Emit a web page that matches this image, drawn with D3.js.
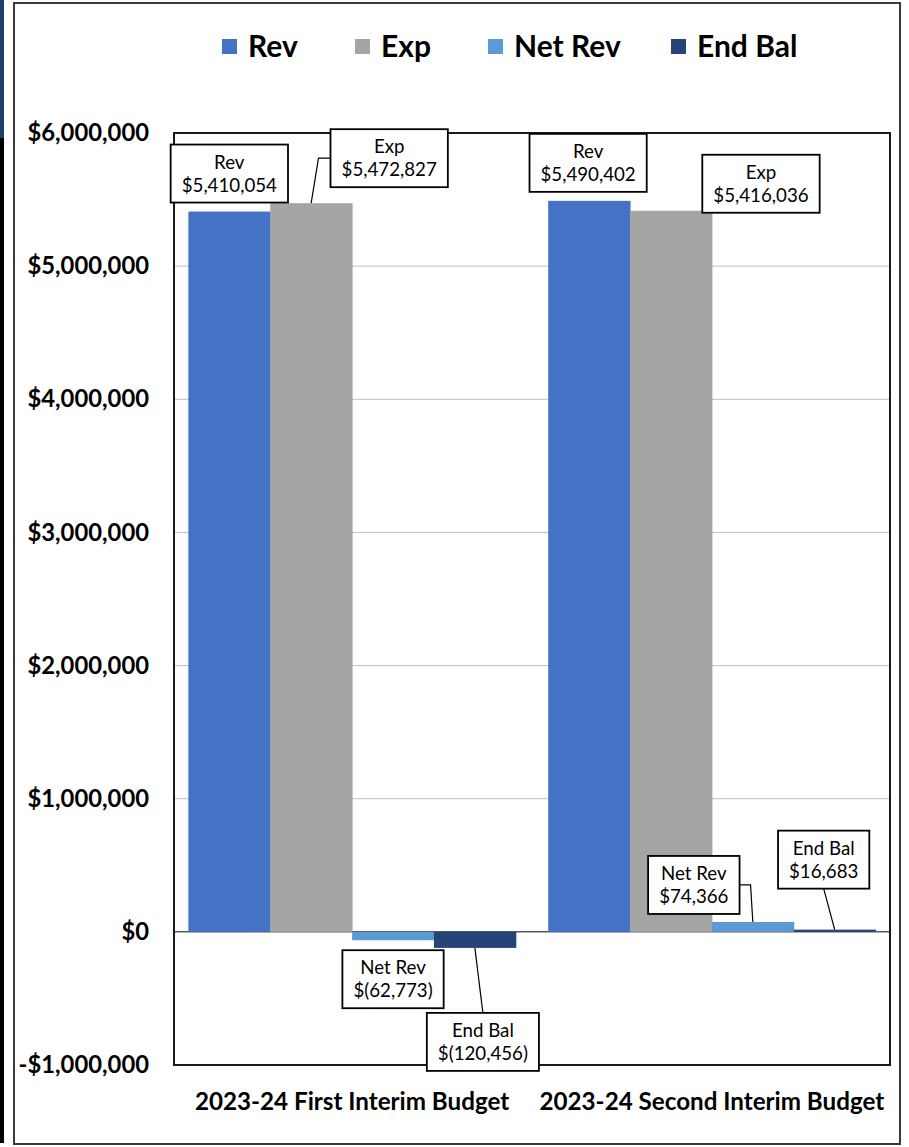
<!DOCTYPE html>
<html><head><meta charset="utf-8">
<script src="https://cdn.jsdelivr.net/npm/d3@7"></script>
<style>html,body{margin:0;padding:0;background:#fff;}svg{display:block;}</style>
</head><body>
<svg id="c" width="909" height="1147"></svg>
<script>
// ---- data ----
const categories = ["2023-24 First Interim Budget", "2023-24 Second Interim Budget"];
const seriesNames = ["Rev", "Exp", "Net Rev", "End Bal"];
const revValues = [5410054, 5490402];
const expValues = [5472827, 5416036];
const netRevValues = [-62773, 74366];
const endBalValues = [-120456, 16683];
const yTicks = [-1000000, 0, 1000000, 2000000, 3000000, 4000000, 5000000, 6000000];

// ---- layout / style ----
const colors = ["#4472C4", "#A5A5A5", "#5B9BD5", "#264478"];
// label box center offsets from (bar center, bar end) and leader style
const labelLayout = [
  [{dx:0,dy:-38,leader:null},{dx:78,dy:-45,leader:"side"},{dx:0,dy:39,leader:null},{dx:8,dy:94,leader:"vert"}],
  [{dx:-1,dy:-38,leader:null},{dx:90,dy:-27,leader:null},{dx:-59,dy:-37,leader:"side"},{dx:-11,dy:-70,leader:"vert"}]
];

const valuesBySeries = [revValues, expValues, netRevValues, endBalValues];
const svg = d3.select("#c");
const plot = {l:174, r:890, t:133, b:1065};
const FONT = "Lato, 'Open Sans', sans-serif";

// outer frame & left strip
svg.append("rect").attr("x",0).attr("y",0).attr("width",4).attr("height",138).attr("fill","#1F3F6E");
svg.append("rect").attr("x",0).attr("y",138).attr("width",4).attr("height",1005).attr("fill","#000");
svg.append("rect").attr("x",14).attr("y",3).attr("width",886).attr("height",1141)
  .attr("fill","none").attr("stroke","#3a3a3a").attr("stroke-width",2);

const y = d3.scaleLinear().domain([-1000000, 6000000]).range([plot.b, plot.t]);
const x0 = d3.scaleBand().domain(categories).range([plot.l, plot.r]).paddingInner(0.09).paddingOuter(0.04);
const x1 = d3.scaleBand().domain(seriesNames).range([0, x0.bandwidth()]).padding(0);

// gridlines
svg.append("g").selectAll("line").data(yTicks).join("line")
  .attr("x1",plot.l).attr("x2",plot.r)
  .attr("y1",d=>y(d)).attr("y2",d=>y(d))
  .attr("stroke",d=>d===0?"#595959":"#BFBFBF").attr("stroke-width",d=>d===0?1.5:1);

// y axis labels
const fmtTick = v => (v<0?"-":"") + "$" + d3.format(",")(Math.abs(v));
const yAxis = d3.axisLeft(y).tickValues(yTicks).tickFormat(fmtTick).tickSize(0).tickPadding(25);
const ya = svg.append("g").attr("transform",`translate(${plot.l},0)`).call(yAxis);
ya.select(".domain").remove();
ya.selectAll("text").attr("font-family",FONT).attr("font-weight","bold")
  .attr("font-size",23.8).attr("fill","#000");

// bars
const rows = [];
categories.forEach((c,ci)=>{
  seriesNames.forEach((s,si)=>{
    rows.push({c, ci, s, si, v: valuesBySeries[si][ci]});
  });
});
svg.append("g").selectAll("rect").data(rows).join("rect")
  .attr("x",d=>x0(d.c)+x1(d.s))
  .attr("width",x1.bandwidth()+0.5)
  .attr("y",d=>Math.min(y(d.v),y(0)))
  .attr("height",d=>Math.abs(y(d.v)-y(0)))
  .attr("fill",d=>colors[d.si]);

// plot border
svg.append("rect").attr("x",plot.l).attr("y",plot.t).attr("width",plot.r-plot.l).attr("height",plot.b-plot.t)
  .attr("fill","none").attr("stroke","#1a1a1a").attr("stroke-width",2);

// x category labels
const xAxis = d3.axisBottom(x0).tickSize(0).tickPadding(0);
const xa = svg.append("g").attr("transform",`translate(0,${plot.b})`).call(xAxis);
xa.select(".domain").remove();
xa.selectAll("text").attr("font-family",FONT).attr("font-weight","bold")
  .attr("font-size",24.2).attr("fill","#000").attr("dy",0).attr("y",45);

// data labels
const fmtVal = v => v<0 ? "$(" + d3.format(",")(-v) + ")" : "$" + d3.format(",")(v);
const lg = svg.append("g");
rows.forEach(d=>{
  const lay = labelLayout[d.ci][d.si];
  const cx = x0(d.c)+x1(d.s)+x1.bandwidth()/2;
  const ey = y(d.v);
  const bx = cx + lay.dx, by = ey + lay.dy;
  const g = lg.append("g");
  const t = g.append("text").attr("font-family",FONT).attr("font-size",18.7)
    .attr("text-anchor","middle").attr("fill","#000");
  t.append("tspan").attr("x",bx).attr("y",by-5).text(d.s);
  t.append("tspan").attr("x",bx).attr("y",by+18).text(fmtVal(d.v));
  const w = t.node().getBBox().width + 22, h = 58;
  const left = bx - w/2, top = by - h/2;
  g.insert("rect","text").attr("x",left).attr("y",top).attr("width",w).attr("height",h)
    .attr("fill","#fff").attr("stroke","#000").attr("stroke-width",1.8);
  if (lay.leader === "side") {
    const edge = lay.dx > 0 ? left : left + w;
    const elbow = lay.dx > 0 ? edge - 12 : edge + 11;
    lg.insert("path",":first-child").attr("d",`M${cx},${ey}L${elbow},${by}L${edge},${by}`)
      .attr("fill","none").attr("stroke","#000").attr("stroke-width",1.2);
  } else if (lay.leader === "vert") {
    const ty = lay.dy > 0 ? top : top + h;
    lg.insert("path",":first-child").attr("d",`M${cx},${ey}L${bx},${ty}`)
      .attr("fill","none").attr("stroke","#000").attr("stroke-width",1.2);
  }
});

// legend
const legendX = [222, 355, 488, 671];
const leg = svg.append("g");
seriesNames.forEach((s,i)=>{
  leg.append("rect").attr("x",legendX[i]).attr("y",39).attr("width",15).attr("height",15).attr("fill",colors[i]);
  leg.append("text").attr("x",legendX[i]+26).attr("y",57).text(s)
    .attr("font-family",FONT).attr("font-weight","bold").attr("font-size",30).attr("fill","#000");
});
</script>
</body></html>
